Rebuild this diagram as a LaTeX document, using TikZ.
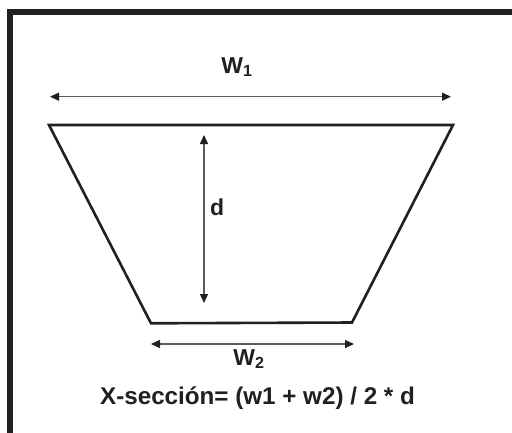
\documentclass[tikz,border=0pt]{standalone}
\usepackage{fontspec}
\setmainfont{Liberation Sans}
\usetikzlibrary{arrows.meta}
\definecolor{ink}{HTML}{231F20}
\definecolor{dimgrey}{HTML}{5A5A5A}
\tikzset{
  dimline/.style={draw=dimgrey, line width=1.4pt, {Triangle[length=9pt,width=8pt,fill=ink,color=ink]}-{Triangle[length=9pt,width=8pt,fill=ink,color=ink]}},
  lbl/.style={font=\bfseries\fontsize{23}{26}\selectfont, text=ink, inner sep=0pt},
  formula/.style={font=\bfseries\fontsize{24.2}{27}\selectfont, text=ink, inner sep=0pt},
  outline/.style={draw=ink, line width=2.6pt, line join=miter}
}
\begin{document}
\begin{tikzpicture}[x=1pt,y=-1pt]
\useasboundingbox (0,0) rectangle (512,432);
\fill[white] (0,0) rectangle (512,432);
% frame
\draw[draw=ink, line width=5.6pt] (10,445) -- (10,12) -- (525,12);
% trapezoid corners
\coordinate (tl) at (49,125);
\coordinate (tr) at (453,125);
\coordinate (br) at (352,322.5);
\coordinate (bl) at (151,323.3);
\draw[outline] (tl) -- (tr) -- (br) -- (bl) -- cycle;
% W1 dimension
\coordinate (w1a) at (50,96.7);
\coordinate (w1b) at (451,96.7);
\draw[dimline] (w1a) -- (w1b);
\node[lbl] (W1) at (237,67) {W\textsubscript{1}};
% d dimension
\coordinate (da) at (204,135);
\coordinate (db) at (204,303);
\draw[dimline] (da) -- (db);
\node[lbl, anchor=west] (D) at (210,207) {d};
% W2 dimension
\coordinate (w2a) at (151,344);
\coordinate (w2b) at (354,344);
\draw[dimline] (w2a) -- (w2b);
\node[lbl] (W2) at (249,359) {W\textsubscript{2}};
% formula
\node[formula] (F) at (257.5,398) {X-sección= (w1 + w2) / 2 * d};
\end{tikzpicture}
\end{document}
